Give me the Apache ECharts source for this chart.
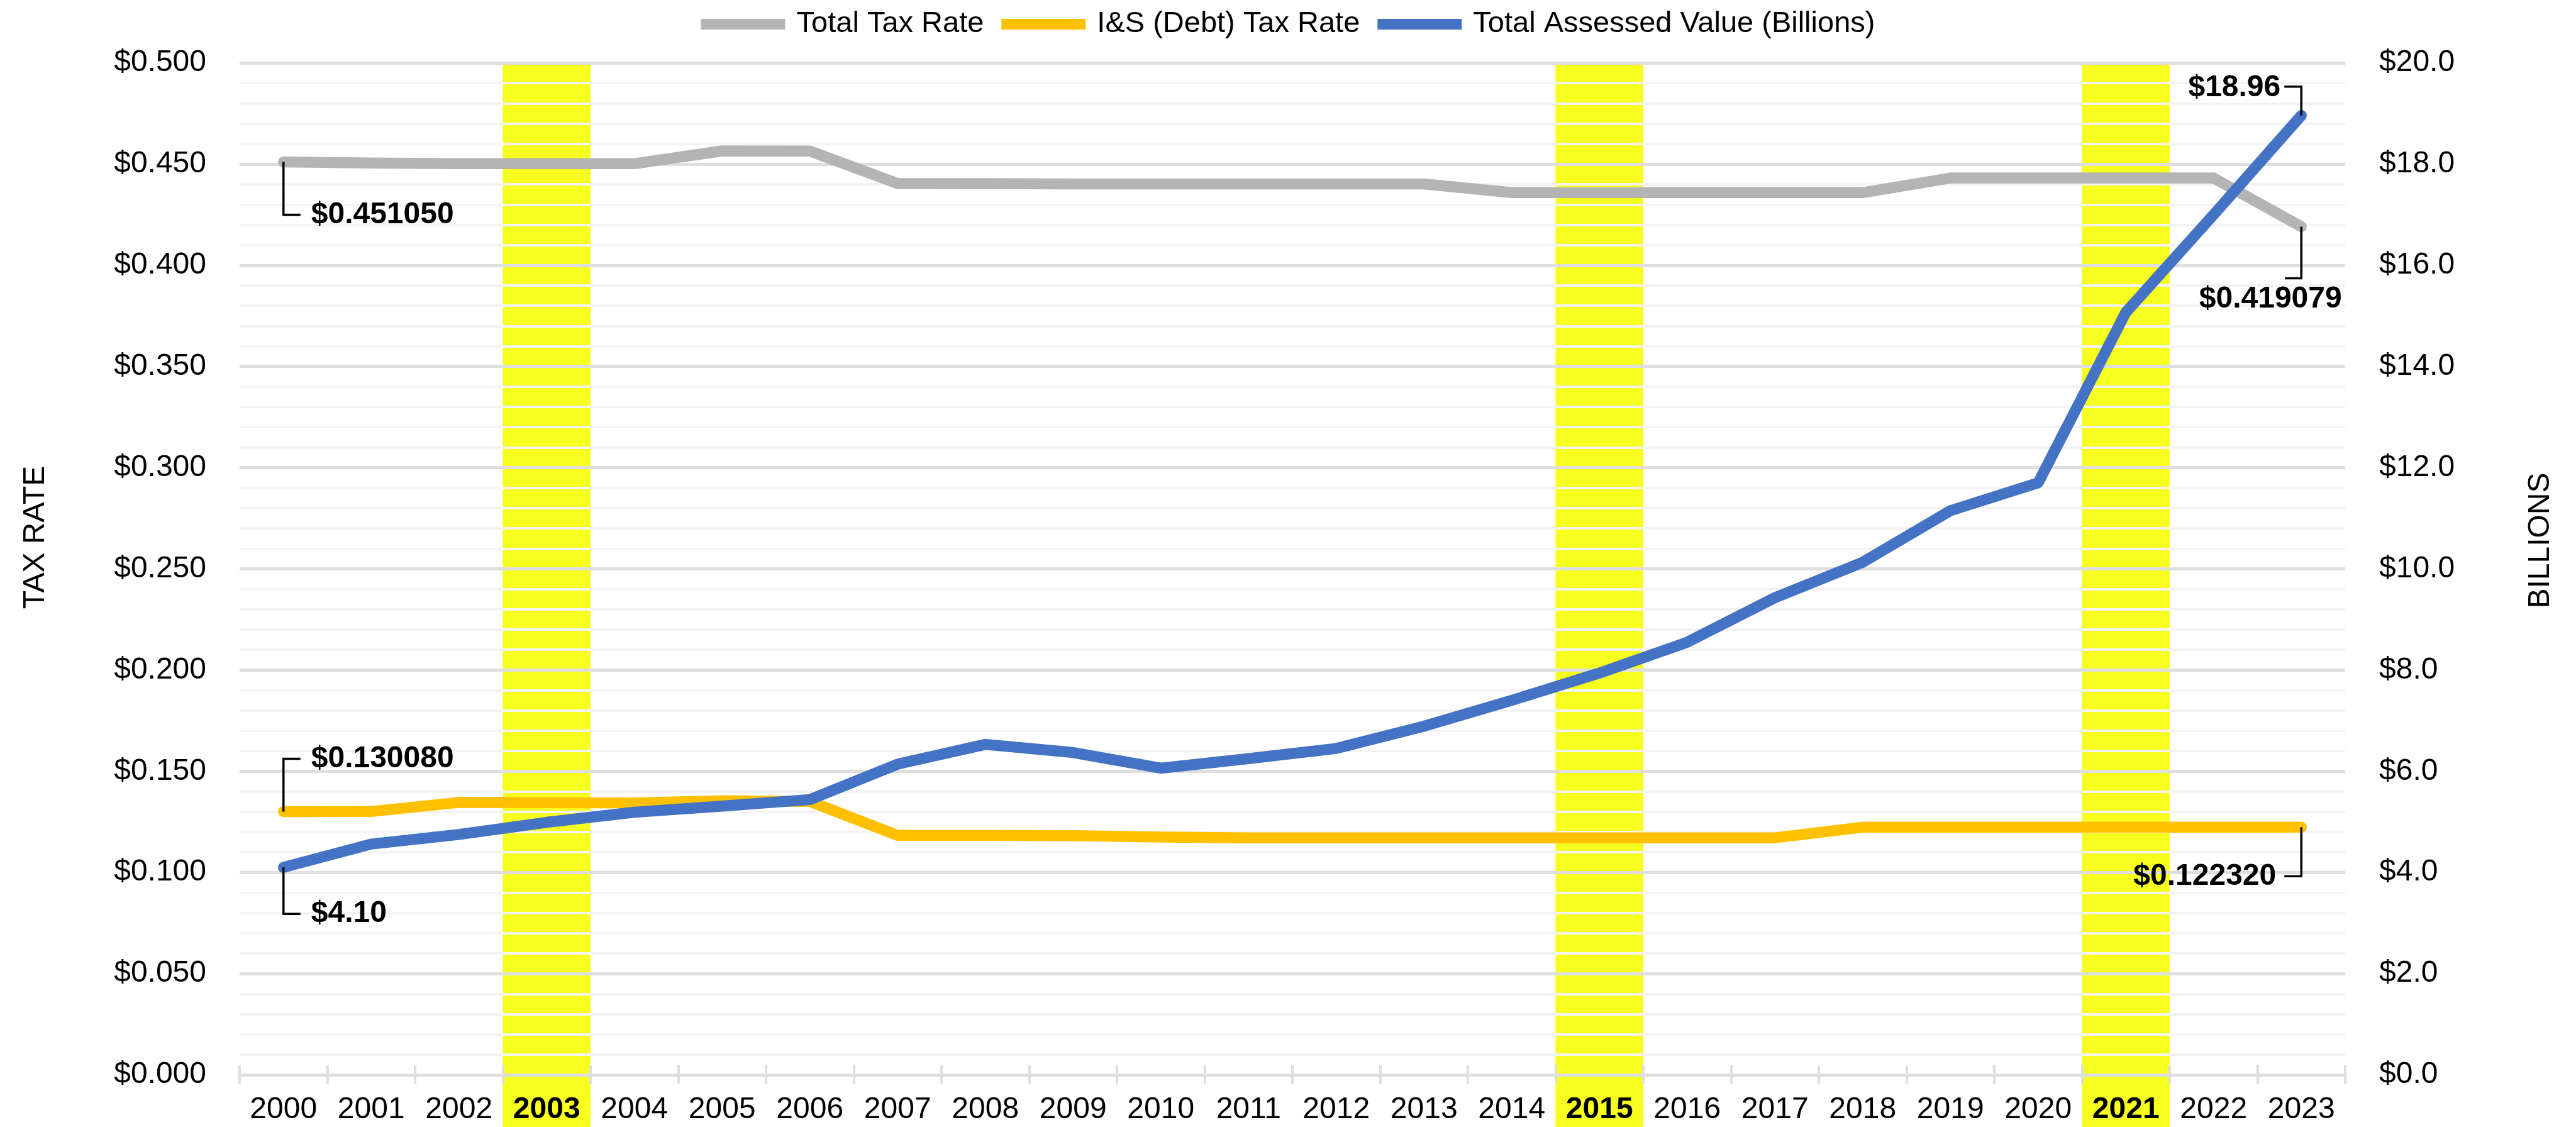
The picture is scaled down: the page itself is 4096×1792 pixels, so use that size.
<!DOCTYPE html>
<html>
<head>
<meta charset="utf-8">
<script src="https://cdn.jsdelivr.net/npm/echarts@6/dist/echarts.min.js"></script>
<style>
html,body{margin:0;padding:0;background:#ffffff;}
#chart{width:4096px;height:1792px;}
</style>
</head>
<body>
<div id="chart"></div>
<script>
// ---------------- data ----------------
const years = ['2000','2001','2002','2003','2004','2005','2006','2007','2008','2009','2010','2011',
               '2012','2013','2014','2015','2016','2017','2018','2019','2020','2021','2022','2023'];
const highlightYears = ['2003','2015','2021'];
const totalTaxRate = [0.451050,0.4505,0.4502,0.4502,0.4502,0.4565,0.4564,0.4404,0.4403,0.4402,0.4402,0.4402,
                      0.4402,0.4402,0.4359,0.4359,0.4359,0.4359,0.4359,0.4431,0.4431,0.4431,0.4431,0.419079];
const debtTaxRate = [0.130080,0.1301,0.1346,0.1345,0.1343,0.1354,0.1351,0.1183,0.1183,0.1182,0.1175,0.1171,
                     0.1171,0.1171,0.1171,0.1171,0.1171,0.1171,0.12232,0.12232,0.12232,0.12232,0.12232,0.122320];
const assessedValue = [4.10,4.56,4.75,4.99,5.19,5.31,5.44,6.14,6.53,6.37,6.06,6.25,
                       6.45,6.89,7.40,7.94,8.55,9.43,10.13,11.15,11.70,15.07,17.00,18.96];
const seriesNames = ['Total Tax Rate','I&S (Debt) Tax Rate','Total Assessed Value (Billions)'];
const leftAxisRange = [0, 0.5, 0.05];   // min, max, step
const rightAxisRange = [0, 20, 2];
const axisNames = ['TAX RATE','BILLIONS'];

// ---------------- styles ----------------
const FONT = '"Liberation Sans", Arial, Helvetica, sans-serif';
const FS = 48;
const COLORS = { total: '#b4b4b4', debt: '#ffc000', value: '#4472c4', band: '#f7ff1f' };
const LW = 17.5;

// callout geometry (pixel offsets from the data point)
const calloutLayout = {
  total: [{ly: 84, hx: 27, tx: 44, ty: 84, align: 'left'},
          {ly: 82, hx: -26, tx: -49, ty: 115, align: 'center'}],
  debt:  [{ly: -84, hx: 27, tx: 44, ty: -84, align: 'left'},
          {ly: 78, hx: -27, tx: -40, ty: 78, align: 'right'}],
  value: [{ly: 74, hx: 27, tx: 44, ty: 74, align: 'left'},
          {ly: -46, hx: -27, tx: -33, ty: -44, align: 'right'}]
};

function calloutSeries(name, values, yAxisIndex, decimals, layout) {
  const last = values.length - 1;
  return {
    type: 'custom', name: name, xAxisIndex: 0, yAxisIndex: yAxisIndex,
    z: 10, silent: true,
    data: [[0, values[0]], [last, values[last]]],
    renderItem: function (params, api) {
      const i = api.value(0), v = api.value(1);
      const p = api.coord([i, v]);
      const L = layout[params.dataIndex];
      return {
        type: 'group',
        children: [
          { type: 'polyline',
            shape: { points: [[p[0], p[1]], [p[0], p[1] + L.ly], [p[0] + L.hx, p[1] + L.ly]] },
            style: { stroke: '#000', lineWidth: 3.5, fill: null } },
          { type: 'text', x: p[0] + L.tx, y: p[1] + L.ty,
            style: { text: '$' + v.toFixed(decimals), fill: '#000',
                     font: 'bold ' + FS + 'px ' + FONT, align: L.align, verticalAlign: 'middle' } }
        ]
      };
    }
  };
}

const chart = echarts.init(document.getElementById('chart'), null, { renderer: 'canvas' });

const option = {
  animation: false,
  backgroundColor: '#ffffff',
  textStyle: { fontFamily: FONT },
  legend: {
    data: seriesNames,
    top: 10,
    left: 'center',
    icon: 'rect',
    itemWidth: 134,
    itemHeight: 17,
    itemGap: 28,
    textStyle: { fontSize: 47, color: '#000', fontFamily: FONT, padding: [0, 0, 0, 13] }
  },
  grid: { left: 381, right: 367, top: 100, bottom: 83, containLabel: false },
  xAxis: [
    {
      type: 'category', data: years, position: 'bottom', boundaryGap: true,
      axisLine: { show: true, lineStyle: { color: '#dedede', width: 5 } },
      axisTick: { show: true, interval: 0, alignWithLabel: false, length: 14, lineStyle: { color: '#dedede', width: 4 } },
      axisLabel: {
        interval: 0, margin: 32, fontSize: FS, color: '#000', fontFamily: FONT,
        formatter: function (v) { return highlightYears.indexOf(v) >= 0 ? '{b|' + v + '}' : v; },
        rich: { b: { fontWeight: 'bold', fontSize: FS, color: '#000', fontFamily: FONT } }
      },
      splitLine: { show: false }
    },
    {
      type: 'category', data: years, position: 'top', boundaryGap: true,
      axisLine: { show: true, lineStyle: { color: '#dedede', width: 5 } },
      axisTick: { show: true, interval: 0, alignWithLabel: false, length: 16, lineStyle: { color: '#dedede', width: 4 } },
      axisLabel: { show: false },
      splitLine: { show: false }
    }
  ],
  yAxis: [
    {
      type: 'value', min: leftAxisRange[0], max: leftAxisRange[1], interval: leftAxisRange[2],
      position: 'left',
      name: axisNames[0], nameLocation: 'middle', nameRotate: 90, nameGap: 300,
      nameTextStyle: { fontSize: FS, color: '#000', fontFamily: FONT, padding: [0, 0, 0, 100] },
      axisLine: { show: false }, axisTick: { show: false },
      axisLabel: { fontSize: FS, color: '#000', margin: 53, fontFamily: FONT,
                   formatter: function (v) { return '$' + v.toFixed(3); } },
      splitLine: { show: true, lineStyle: { color: '#dedede', width: 5 } },
      minorTick: { show: false, splitNumber: 5 },
      minorSplitLine: { show: true, lineStyle: { color: '#f3f3f3', width: 4 } }
    },
    {
      type: 'value', min: rightAxisRange[0], max: rightAxisRange[1], interval: rightAxisRange[2],
      position: 'right',
      name: axisNames[1], nameLocation: 'middle', nameRotate: 90, nameGap: 287,
      nameTextStyle: { fontSize: FS, color: '#000', fontFamily: FONT, padding: [0, 0, 0, 90] },
      axisLine: { show: false }, axisTick: { show: false },
      axisLabel: { fontSize: FS, color: '#000', margin: 54, fontFamily: FONT,
                   formatter: function (v) { return '$' + v.toFixed(1); } },
      splitLine: { show: false }
    }
  ],
  series: [
    {
      type: 'custom', name: 'highlight', xAxisIndex: 0, yAxisIndex: 0, z: -1, silent: true,
      data: highlightYears.map(function (y) { return [y, leftAxisRange[1]]; }),
      renderItem: function (params, api) {
        const top = api.coord([api.value(0), api.value(1)]);
        const w = api.size([1, 0])[0];
        return { type: 'rect',
                 shape: { x: top[0] - w / 2, y: top[1], width: w, height: api.getHeight() - top[1] },
                 style: { fill: COLORS.band } };
      }
    },
    {
      type: 'line', name: seriesNames[0], data: totalTaxRate, yAxisIndex: 0, z: 3,
      symbol: 'none', itemStyle: { color: COLORS.total },
      lineStyle: { color: COLORS.total, width: LW, cap: 'round', join: 'round' }
    },
    {
      type: 'line', name: seriesNames[1], data: debtTaxRate, yAxisIndex: 0, z: 4,
      symbol: 'none', itemStyle: { color: COLORS.debt },
      lineStyle: { color: COLORS.debt, width: LW, cap: 'round', join: 'round' }
    },
    {
      type: 'line', name: seriesNames[2], data: assessedValue, yAxisIndex: 1, z: 5,
      symbol: 'none', itemStyle: { color: COLORS.value },
      lineStyle: { color: COLORS.value, width: LW, cap: 'round', join: 'round' }
    },
    calloutSeries('total callouts', totalTaxRate, 0, 6, calloutLayout.total),
    calloutSeries('debt callouts', debtTaxRate, 0, 6, calloutLayout.debt),
    calloutSeries('value callouts', assessedValue, 1, 2, calloutLayout.value)
  ]
};
chart.setOption(option);
</script>
</body>
</html>
